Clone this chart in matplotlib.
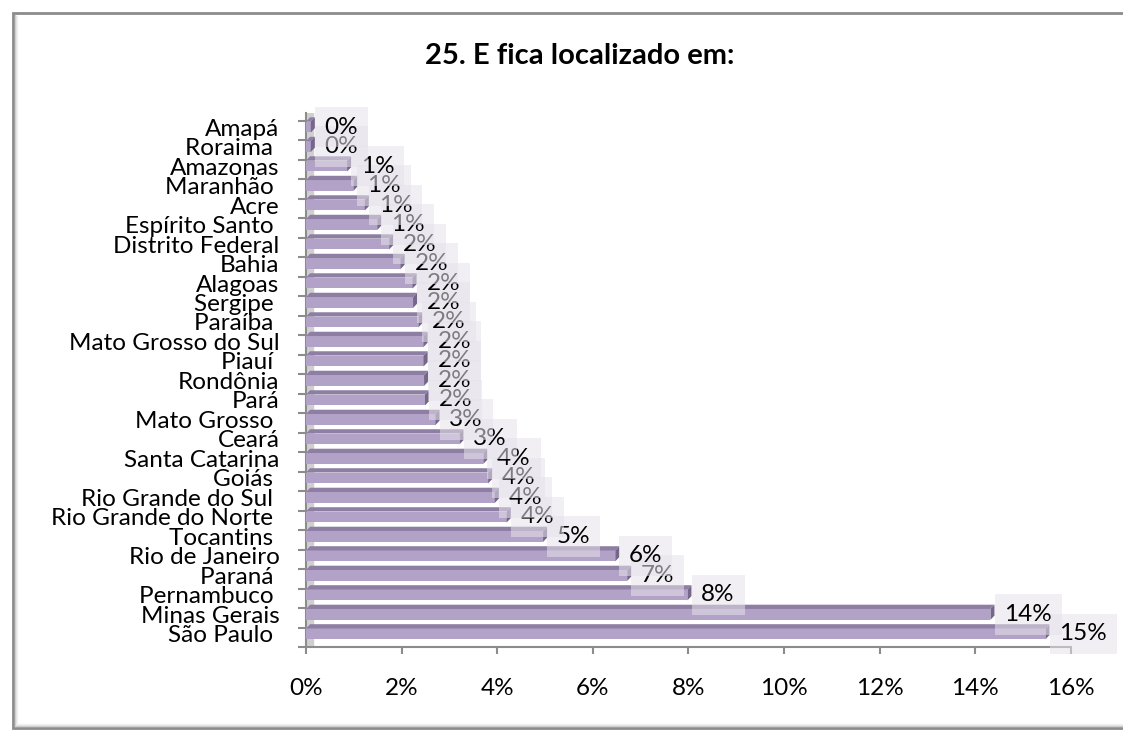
import matplotlib.pyplot as plt
from matplotlib.patches import Polygon, Rectangle
from matplotlib.lines import Line2D
from matplotlib.ticker import FixedLocator, FuncFormatter

plt.rcParams['font.family'] = ['Lato', 'DejaVu Sans']

# share of respondents per state, in percent, largest first
states = ['São Paulo ', 'Minas Gerais', 'Pernambuco ', 'Paraná ', 'Rio de Janeiro',
          'Tocantins ', 'Rio Grande do Norte ', 'Rio Grande do Sul ', 'Goiás ',
          'Santa Catarina', 'Ceará', 'Mato Grosso ', 'Pará', 'Rondônia', 'Piauí ',
          'Mato Grosso do Sul', 'Paraíba ', 'Sergipe ', 'Alagoas', 'Bahia',
          'Distrito Federal', 'Espírito Santo ', 'Acre', 'Maranhão ', 'Amazonas',
          'Roraima ', 'Amapá']
shares = [15.47, 14.32, 7.98, 6.72, 6.47,
          4.96, 4.20, 3.95, 3.81,
          3.71, 3.21, 2.71, 2.49, 2.47, 2.46,
          2.46, 2.35, 2.24, 2.23, 1.98,
          1.74, 1.49, 1.23, 0.99, 0.86,
          0.10, 0.10]
x_ticks = [0, 2, 4, 6, 8, 10, 12, 14, 16]

W, H = 1123, 732
fig = plt.figure(figsize=(W / 100, H / 100), dpi=100)
fig.patch.set_facecolor('white')

# outer chart frame (runs off the right edge) with a soft inner shadow
fig.add_artist(Rectangle((13 / W, 4 / H), 1130 / W, 715 / H, transform=fig.transFigure,
                         fc='white', ec='#8c8c8c', lw=2, zorder=-3))
for k, c in enumerate(['#c8c8c8', '#e2e2e2', '#f1f1f1']):
    off = 2 + k
    fig.add_artist(Line2D([(13 + off) / W] * 2, [(4 + off) / H, (719 - off) / H],
                          transform=fig.transFigure, color=c, lw=1, zorder=-2))
    fig.add_artist(Line2D([(13 + off) / W, 1], [(4 + off) / H] * 2,
                          transform=fig.transFigure, color=c, lw=1, zorder=-2))

ax = fig.add_axes([306 / W, 85 / H, 764.7 / W, 534 / H])
ax.set_facecolor('none')

ypos = list(range(len(states)))
h = 0.56      # front face height
dx = 0.085    # depth shift along x
dy = 0.22     # depth shift along y

ax.barh(ypos, shares, height=h, color='#b3a2c7', zorder=3)
for v, y in zip(shares, ypos):
    top = Polygon([(0, y + h / 2), (v, y + h / 2), (v + dx, y + h / 2 + dy), (dx, y + h / 2 + dy)],
                  closed=True, fc='#8e7ea3', ec='none', zorder=3)
    cap = Polygon([(v, y - h / 2), (v + dx, y - h / 2 + dy), (v + dx, y + h / 2 + dy), (v, y + h / 2)],
                  closed=True, fc='#75668a', ec='none', zorder=3)
    ax.add_patch(top)
    ax.add_patch(cap)
    ax.annotate(f'{v:.0f}%', xy=(v, y), xytext=(10, 0), textcoords='offset points',
                ha='left', va='center', fontsize=17.5, color='black', zorder=5,
                bbox=dict(boxstyle='square,pad=0.4', fc='#e6e2ec', ec='none', alpha=0.55))

# side wall
ax.axvspan(0, 0.14, color='#cfcfcf', zorder=1)

ax.set_xlim(0, 16)
ax.set_ylim(-0.67, 26.72)

ax.xaxis.set_major_locator(FixedLocator(x_ticks))
ax.xaxis.set_major_formatter(FuncFormatter(lambda v, p: f'{v:.0f}%'))
ax.tick_params(axis='x', length=5, width=1.5, color='#8c8c8c', labelsize=17.5, pad=17)

ax.set_yticks(ypos)
ax.set_yticklabels(states)
ax.set_yticks([i - 0.67 for i in range(len(states) + 1)], minor=True)
ax.tick_params(axis='y', which='major', length=0, labelsize=17.5, pad=19)
ax.tick_params(axis='y', which='minor', length=6, width=1.5, color='#8c8c8c')

for side in ['top', 'right']:
    ax.spines[side].set_visible(False)
for side in ['left', 'bottom']:
    ax.spines[side].set_color('#8c8c8c')
    ax.spines[side].set_linewidth(1.5)

fig.text(580 / W, 1 - 56 / H, '25. E fica localizado em:', ha='center', va='center',
         fontsize=21, fontweight='bold')

fig.savefig('out.png', dpi=100)
